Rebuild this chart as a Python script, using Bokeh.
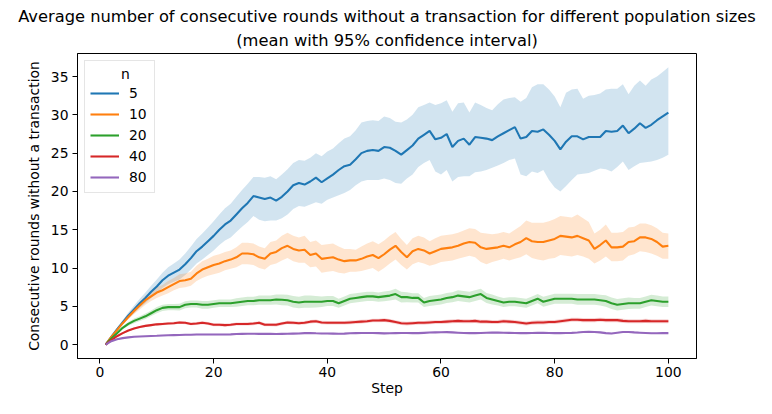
from bokeh.plotting import figure
from bokeh.models import Range1d, Legend, LegendItem, FixedTicker, ColumnDataSource, Title
from bokeh.embed import file_html
from bokeh.resources import INLINE

steps = list(range(1, 101))
series_names = ["5", "10", "20", "40", "80"]
colors = ["#1f77b4", "#ff7f0e", "#2ca02c", "#d62728", "#9467bd"]
x_ticks = [0, 20, 40, 60, 80, 100]
y_ticks = [0, 5, 10, 15, 20, 25, 30, 35]
title_line1 = "Average number of consecutive rounds without a transaction for different population sizes"
title_line2 = "(mean with 95% confidence interval)"

blue_mean = [0.0, 1.0, 2.0, 2.9, 3.8, 4.6, 5.4, 6.1, 6.9, 7.6,
             8.4, 9.0, 9.4, 9.8, 10.5, 11.3, 12.2, 12.8, 13.5, 14.2,
             15.0, 15.7, 16.2, 17.0, 17.8, 18.5, 19.4, 19.2, 19.0, 19.2,
             18.8, 19.3, 20.0, 20.8, 21.1, 20.9, 21.3, 21.8, 21.2, 21.7,
             22.2, 22.8, 23.3, 23.5, 24.2, 25.0, 25.3, 25.4, 25.3, 25.8,
             25.7, 25.3, 24.8, 25.4, 26.0, 26.9, 27.4, 27.9, 26.8, 27.0,
             27.5, 25.8, 26.6, 26.9, 26.1, 27.1, 27.0, 26.9, 26.7, 27.2,
             27.6, 28.0, 28.4, 26.9, 27.1, 27.9, 27.8, 28.1, 27.4, 26.6,
             25.5, 26.5, 27.2, 27.2, 26.8, 27.1, 27.1, 27.1, 27.9, 27.8,
             27.9, 28.6, 27.6, 28.2, 28.9, 28.3, 28.7, 29.3, 29.8, 30.3]
blue_lo = [0.0, 0.9, 1.8, 2.6, 3.4, 4.1, 4.8, 5.4, 6.1, 6.7,
           7.4, 7.9, 8.2, 8.5, 9.1, 9.8, 10.6, 11.1, 11.7, 12.3,
           13.0, 13.6, 14.0, 14.7, 15.4, 16.0, 16.8, 16.3, 16.1, 16.2,
           16.2, 16.5, 17.0, 17.7, 18.1, 18.0, 18.3, 18.6, 18.4, 18.9,
           19.2, 19.5, 19.8, 20.2, 20.8, 21.3, 21.5, 21.5, 21.5, 21.7,
           21.5, 21.1, 21.0, 21.7, 22.2, 23.2, 23.7, 24.1, 22.6, 22.2,
           22.8, 21.3, 21.9, 22.0, 22.0, 22.5, 22.6, 22.8, 23.1, 23.4,
           23.7, 24.1, 24.3, 22.2, 22.0, 22.6, 22.4, 22.8, 21.5, 20.5,
           20.0, 20.7, 21.5, 22.2, 22.3, 22.4, 22.7, 23.0, 22.9, 22.6,
           23.2, 23.9, 22.8, 23.3, 23.7, 23.8, 23.9, 24.1, 24.4, 24.8]
blue_hi = [0.0, 1.1, 2.2, 3.2, 4.2, 5.1, 6.0, 6.8, 7.7, 8.5,
           9.4, 10.1, 10.6, 11.1, 11.9, 12.8, 13.8, 14.5, 15.3, 16.1,
           17.0, 17.8, 18.4, 19.3, 20.2, 21.0, 21.9, 21.9, 21.8, 22.0,
           21.6, 22.2, 22.9, 23.7, 24.1, 24.0, 24.4, 25.0, 24.6, 25.2,
           25.6, 26.3, 26.9, 27.2, 28.0, 29.0, 29.2, 29.3, 29.2, 29.8,
           29.6, 29.1, 29.0, 29.4, 30.0, 31.0, 31.3, 31.6, 31.3, 31.5,
           31.9, 30.4, 31.5, 31.6, 30.3, 31.6, 31.3, 30.9, 30.6, 31.4,
           32.0, 32.2, 32.3, 31.7, 32.2, 33.6, 34.0, 34.0, 33.3, 32.4,
           31.0, 32.9, 33.3, 33.4, 32.1, 32.5, 32.6, 32.8, 33.3, 33.4,
           33.4, 34.0, 32.7, 33.8, 34.5, 33.8, 34.6, 35.0, 35.6, 36.2]

orange_mean = [0.0, 1.0, 1.9, 2.8, 3.6, 4.4, 5.1, 5.8, 6.3, 6.8,
               7.1, 7.5, 7.9, 8.3, 8.4, 8.6, 9.3, 9.8, 10.1, 10.4,
               10.6, 10.9, 11.1, 11.4, 11.9, 11.9, 11.8, 11.4, 11.2, 11.9,
               12.1, 12.6, 12.9, 12.5, 12.3, 12.4, 11.7, 11.9, 11.2, 11.3,
               11.4, 11.1, 10.9, 11.0, 11.0, 11.2, 11.5, 11.7, 11.3, 11.8,
               12.4, 12.9, 12.1, 11.4, 12.2, 12.5, 12.3, 11.9, 12.2, 12.5,
               12.6, 12.7, 12.9, 13.2, 13.4, 13.3, 12.7, 12.5, 12.6, 12.7,
               12.9, 12.7, 13.1, 13.4, 13.9, 13.5, 13.4, 13.4, 13.6, 13.8,
               14.2, 14.1, 14.0, 14.2, 13.9, 13.6, 12.5, 13.0, 13.6, 12.7,
               12.7, 12.8, 13.4, 13.5, 14.0, 14.0, 13.8, 13.4, 12.8, 12.9]
orange_lo = [0.0, 0.9, 1.8, 2.6, 3.3, 4.0, 4.6, 5.2, 5.7, 6.1,
             6.4, 6.7, 7.1, 7.4, 7.5, 7.7, 8.3, 8.7, 9.0, 9.2,
             9.4, 9.7, 9.9, 10.1, 10.5, 10.5, 10.4, 10.0, 9.8, 10.4,
             10.6, 11.0, 11.3, 10.9, 10.7, 10.7, 10.1, 10.2, 9.4, 9.5,
             9.6, 9.4, 9.3, 9.5, 9.5, 9.6, 9.8, 10.0, 9.5, 10.0,
             10.6, 11.1, 10.4, 9.8, 10.5, 10.8, 10.6, 10.3, 10.5, 10.8,
             10.9, 11.0, 11.2, 11.4, 11.6, 11.4, 10.8, 10.5, 10.8, 11.0,
             11.2, 11.0, 11.2, 11.4, 11.8, 11.3, 11.1, 11.0, 11.2, 11.3,
             11.7, 11.6, 11.5, 11.7, 11.5, 11.2, 10.6, 11.0, 11.5, 10.9,
             10.9, 11.0, 11.6, 11.8, 12.2, 12.1, 11.9, 11.6, 11.2, 11.2]
orange_hi = [0.0, 1.1, 2.1, 3.0, 3.9, 4.8, 5.6, 6.4, 6.9, 7.5,
             7.8, 8.3, 8.7, 9.2, 9.3, 9.5, 10.3, 10.9, 11.2, 11.6,
             11.8, 12.1, 12.3, 12.7, 13.3, 13.3, 13.2, 12.8, 12.6, 13.4,
             13.6, 14.2, 14.6, 14.2, 14.0, 14.2, 13.4, 13.6, 13.0, 13.1,
             13.2, 12.8, 12.5, 12.5, 12.4, 12.8, 13.2, 13.5, 13.1, 13.6,
             14.2, 14.7, 13.8, 13.0, 13.9, 14.2, 14.0, 13.5, 13.9, 14.2,
             14.3, 14.4, 14.6, 14.9, 15.2, 15.1, 14.6, 14.5, 14.4, 14.5,
             14.7, 14.5, 15.0, 15.5, 16.2, 15.9, 15.9, 15.9, 16.1, 16.4,
             16.8, 16.7, 16.6, 17.0, 16.5, 16.0, 14.5, 15.0, 15.7, 14.6,
             14.6, 14.7, 15.3, 15.4, 15.8, 15.8, 15.6, 15.2, 14.6, 14.5]

green_mean = [0.0, 0.8, 1.5, 2.2, 2.7, 3.1, 3.4, 3.7, 4.1, 4.5,
              4.8, 4.9, 4.9, 4.9, 5.2, 5.3, 5.3, 5.2, 5.2, 5.3,
              5.4, 5.4, 5.4, 5.5, 5.6, 5.7, 5.7, 5.8, 5.8, 5.8,
              5.9, 5.85, 5.8, 5.6, 5.5, 5.6, 5.6, 5.6, 5.6, 5.7,
              5.7, 5.4, 5.7, 6.0, 6.1, 6.2, 6.3, 6.3, 6.2, 6.3,
              6.4, 6.6, 6.2, 6.2, 6.1, 6.1, 5.5, 5.7, 5.8, 5.9,
              6.1, 6.2, 6.4, 6.3, 6.2, 6.4, 6.6, 6.1, 5.9, 5.7,
              5.5, 5.6, 5.6, 5.5, 5.4, 5.7, 6.0, 5.6, 5.8, 6.0,
              6.0, 6.0, 6.0, 5.9, 5.9, 5.9, 5.9, 5.8, 5.7, 5.4,
              5.2, 5.3, 5.4, 5.4, 5.4, 5.6, 5.8, 5.7, 5.6, 5.6]
green_ci = [0.0, 0.1, 0.15, 0.2, 0.25, 0.3, 0.3, 0.35, 0.35, 0.4,
            0.4, 0.4, 0.4, 0.45, 0.45, 0.45, 0.45, 0.5, 0.5, 0.5,
            0.5, 0.5, 0.5, 0.55, 0.55, 0.55, 0.55, 0.6, 0.6, 0.6,
            0.65, 0.7, 0.7, 0.75, 0.75, 0.8, 0.8, 0.75, 0.7, 0.65,
            0.65, 0.6, 0.6, 0.6, 0.6, 0.6, 0.6, 0.6, 0.6, 0.65,
            0.65, 0.7, 0.7, 0.65, 0.6, 0.6, 0.6, 0.65, 0.65, 0.65,
            0.65, 0.65, 0.7, 0.7, 0.7, 0.7, 0.7, 0.65, 0.65, 0.6,
            0.6, 0.6, 0.6, 0.6, 0.6, 0.6, 0.6, 0.65, 0.65, 0.65,
            0.65, 0.65, 0.65, 0.7, 0.7, 0.7, 0.7, 0.7, 0.75, 0.75,
            0.75, 0.75, 0.75, 0.7, 0.7, 0.7, 0.7, 0.7, 0.7, 0.7]

red_mean = [0.0, 0.6, 1.1, 1.5, 1.85, 2.1, 2.3, 2.45, 2.55, 2.65,
            2.7, 2.75, 2.8, 2.9, 2.85, 2.7, 2.75, 2.85, 2.75, 2.6,
            2.6, 2.55, 2.6, 2.7, 2.7, 2.7, 2.75, 2.85, 2.6, 2.6,
            2.6, 2.75, 2.9, 2.85, 2.8, 2.85, 3.0, 3.05, 2.9, 2.85,
            2.85, 2.85, 2.85, 2.9, 2.95, 3.0, 3.05, 3.15, 3.15, 3.2,
            3.1, 2.95, 2.8, 2.75, 2.8, 2.85, 2.85, 2.9, 2.95, 2.95,
            3.0, 3.05, 3.1, 3.05, 3.05, 3.1, 3.0, 3.0, 2.95, 2.95,
            3.05, 3.0, 2.95, 2.85, 2.75, 2.85, 2.9, 2.9, 2.95, 2.95,
            3.05, 3.15, 3.25, 3.25, 3.2, 3.2, 3.2, 3.25, 3.2, 3.2,
            3.2, 3.1, 3.05, 3.05, 3.05, 3.1, 3.05, 3.05, 3.05, 3.05]
red_ci = [0.0, 0.05, 0.08, 0.1, 0.12, 0.13, 0.14, 0.15, 0.15, 0.16,
          0.17, 0.17, 0.18, 0.18, 0.18, 0.18, 0.19, 0.19, 0.19, 0.19,
          0.2, 0.2, 0.2, 0.2, 0.2, 0.21, 0.21, 0.21, 0.21, 0.21,
          0.22, 0.22, 0.22, 0.22, 0.22, 0.23, 0.23, 0.23, 0.23, 0.23,
          0.23, 0.23, 0.23, 0.24, 0.24, 0.24, 0.24, 0.24, 0.24, 0.24,
          0.25, 0.25, 0.25, 0.25, 0.25, 0.25, 0.25, 0.25, 0.25, 0.25,
          0.26, 0.26, 0.26, 0.26, 0.26, 0.26, 0.26, 0.26, 0.26, 0.26,
          0.26, 0.26, 0.26, 0.26, 0.26, 0.27, 0.27, 0.27, 0.27, 0.27,
          0.27, 0.27, 0.27, 0.27, 0.27, 0.27, 0.27, 0.27, 0.27, 0.27,
          0.27, 0.27, 0.27, 0.27, 0.27, 0.27, 0.27, 0.27, 0.27, 0.27]

purple_mean = [0.0, 0.45, 0.7, 0.85, 0.95, 1.02, 1.07, 1.1, 1.13, 1.16,
               1.2, 1.22, 1.24, 1.26, 1.28, 1.3, 1.32, 1.32, 1.33, 1.33,
               1.32, 1.33, 1.34, 1.38, 1.4, 1.42, 1.42, 1.41, 1.42, 1.4,
               1.38, 1.4, 1.42, 1.44, 1.46, 1.5, 1.52, 1.48, 1.46, 1.45,
               1.44, 1.42, 1.44, 1.48, 1.5, 1.52, 1.52, 1.53, 1.5, 1.47,
               1.48, 1.5, 1.52, 1.52, 1.5, 1.5, 1.54, 1.58, 1.6, 1.62,
               1.63, 1.6, 1.56, 1.52, 1.5, 1.5, 1.52, 1.55, 1.57, 1.58,
               1.56, 1.54, 1.52, 1.5, 1.5, 1.52, 1.54, 1.54, 1.52, 1.5,
               1.5, 1.52, 1.54, 1.58, 1.64, 1.68, 1.66, 1.6, 1.5, 1.46,
               1.56, 1.66, 1.66, 1.6, 1.56, 1.52, 1.48, 1.48, 1.5, 1.5]
purple_ci = [0.0, 0.03, 0.04, 0.05, 0.06, 0.06, 0.07, 0.07, 0.07, 0.08,
             0.08, 0.08, 0.08, 0.08, 0.08, 0.09, 0.09, 0.09, 0.09, 0.09,
             0.09, 0.09, 0.09, 0.09, 0.09, 0.1, 0.1, 0.1, 0.1, 0.1,
             0.1, 0.1, 0.1, 0.1, 0.1, 0.1, 0.1, 0.1, 0.1, 0.1,
             0.1, 0.1, 0.1, 0.1, 0.1, 0.1, 0.1, 0.1, 0.1, 0.1,
             0.1, 0.1, 0.1, 0.1, 0.1, 0.1, 0.1, 0.1, 0.1, 0.1,
             0.1, 0.1, 0.1, 0.1, 0.1, 0.1, 0.1, 0.1, 0.1, 0.1,
             0.1, 0.1, 0.1, 0.1, 0.1, 0.1, 0.1, 0.1, 0.1, 0.1,
             0.1, 0.1, 0.1, 0.1, 0.1, 0.1, 0.1, 0.1, 0.1, 0.1,
             0.1, 0.1, 0.1, 0.1, 0.1, 0.1, 0.1, 0.1, 0.1, 0.1]


def sym_band(mean, ci):
    return [m - c for m, c in zip(mean, ci)], [m + c for m, c in zip(mean, ci)]


green_lo, green_hi = sym_band(green_mean, green_ci)
red_lo, red_hi = sym_band(red_mean, red_ci)
purple_lo, purple_hi = sym_band(purple_mean, purple_ci)

means = [blue_mean, orange_mean, green_mean, red_mean, purple_mean]
los = [blue_lo, orange_lo, green_lo, red_lo, purple_lo]
his = [blue_hi, orange_hi, green_hi, red_hi, purple_hi]

x_pad = 0.05 * (max(steps) - min(steps))
y_min = min(min(l) for l in los)
y_max = max(max(h) for h in his)
y_pad = 0.05 * (y_max - y_min)

FONT = "DejaVu Sans"
FS = "13.9px"

p = figure(width=756, height=398, output_backend="svg", toolbar_location=None,
           x_range=Range1d(min(steps) - x_pad, max(steps) + x_pad),
           y_range=Range1d(y_min - y_pad, y_max + y_pad),
           min_border_left=77, min_border_right=60, min_border_top=53, min_border_bottom=37,
           title=None)

t2 = Title(text=title_line2, align="center", text_font=FONT, text_font_size="16.3px",
           text_font_style="normal", text_color="black", standoff=7)
t1 = Title(text=title_line1, align="center", text_font=FONT, text_font_size="16.3px",
           text_font_style="normal", text_color="black", standoff=0)
p.add_layout(t2, "above")
p.add_layout(t1, "above")

p.xgrid.visible = False
p.ygrid.visible = False
p.outline_line_color = "black"
p.outline_line_width = 1
p.background_fill_color = "white"

for ax in (p.xaxis, p.yaxis):
    ax.major_label_text_font = FONT
    ax.major_label_text_font_size = FS
    ax.major_label_text_color = "black"
    ax.axis_label_text_font = FONT
    ax.axis_label_text_font_size = FS
    ax.axis_label_text_font_style = "normal"
    ax.axis_label_text_color = "black"
    ax.major_tick_out = 5
    ax.major_tick_in = 0
    ax.minor_tick_out = 0
    ax.minor_tick_in = 0
    ax.axis_line_color = "black"
    ax.major_tick_line_color = "black"

p.xaxis.major_label_standoff = 3
p.xaxis.axis_label_standoff = 0
p.yaxis.major_label_standoff = 4
p.yaxis.axis_label_standoff = 6

p.xaxis.ticker = FixedTicker(ticks=x_ticks)
p.yaxis.ticker = FixedTicker(ticks=y_ticks)
p.xaxis.axis_label = "Step"
p.yaxis.axis_label = "Consecutive rounds without a transaction"

# bands (below all lines)
for c, lo, hi in zip(colors, los, his):
    src = ColumnDataSource(dict(x=steps, lo=lo, hi=hi))
    p.varea(x="x", y1="lo", y2="hi", source=src, fill_color=c, fill_alpha=0.2)

items = []
for name, c, m in zip(series_names, colors, means):
    src = ColumnDataSource(dict(x=steps, y=m))
    r = p.line(x="x", y="y", source=src, line_color=c, line_width=2.08)
    items.append(LegendItem(label=name, renderers=[r]))

legend = Legend(items=items, location="top_left", title="\u00a0" * 7 + "n",
                title_text_font=FONT, title_text_font_size=FS, title_text_font_style="normal",
                title_text_color="black", title_standoff=1,
                label_text_font=FONT, label_text_font_size=FS, label_text_color="black",
                glyph_width=29, glyph_height=20, label_standoff=10, spacing=1,
                padding=5, margin=7, border_line_color="#cccccc", border_line_width=1,
                background_fill_alpha=0.8)
p.add_layout(legend)

open("out.html", "w").write(file_html(p, INLINE))
